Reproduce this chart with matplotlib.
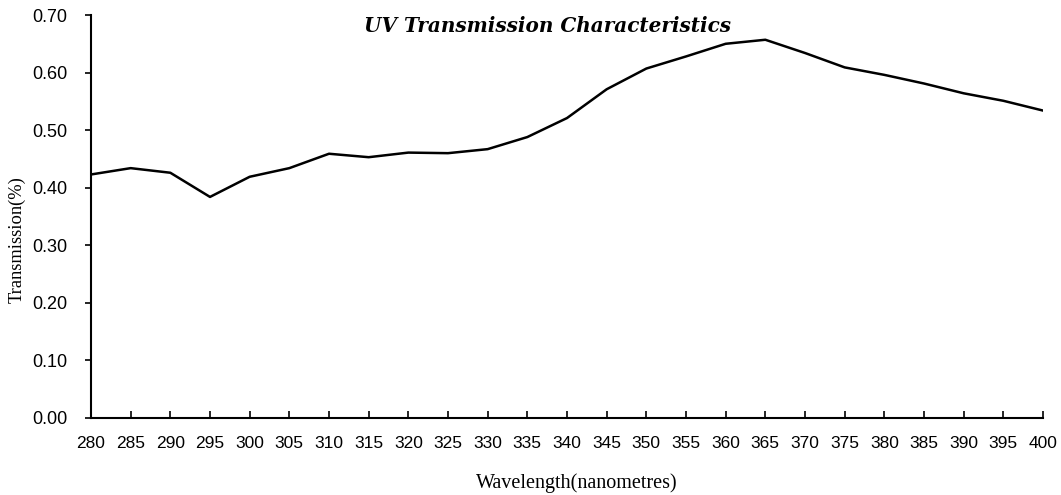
import matplotlib
matplotlib.use("Agg")
import matplotlib.pyplot as plt
import numpy as np

# wavelength in nm, transmission
wavelengths = [280, 285, 290, 295, 300, 305, 310, 315, 320, 325, 330, 335, 340,
               345, 350, 355, 360, 365, 370, 375, 380, 385, 390, 395, 400]
transmission = [0.423, 0.434, 0.426, 0.384, 0.419, 0.434, 0.459, 0.453, 0.461,
                0.460, 0.467, 0.488, 0.521, 0.571, 0.607, 0.628, 0.650, 0.657,
                0.634, 0.609, 0.596, 0.581, 0.564, 0.551, 0.534]
y_ticks = [0.0, 0.1, 0.2, 0.3, 0.4, 0.5, 0.6, 0.7]

W, H = 1061, 495
fig = plt.figure(figsize=(W / 100, H / 100), dpi=100)
ax = fig.add_axes([91 / W, 1 - 418 / H, (1043 - 91) / W, (418 - 15) / H])

ax.plot(wavelengths, transmission, color="black", linewidth=1.8, solid_joinstyle="round")

ax.set_xlim(wavelengths[0], wavelengths[-1])
ax.set_ylim(0, 0.7)
ax.set_xticks(wavelengths)
ax.set_xticklabels([str(w) for w in wavelengths], fontfamily="Liberation Sans", fontsize=12.5)
ax.set_yticks(y_ticks)
ax.set_yticklabels([f"{v:.2f}" for v in y_ticks], fontfamily="Liberation Sans", fontsize=13)

for side in ("top", "right"):
    ax.spines[side].set_visible(False)
for side in ("left", "bottom"):
    ax.spines[side].set_linewidth(1.5)
    ax.spines[side].set_color("black")

ax.tick_params(axis="x", direction="in", length=5, width=1.2, pad=13)
ax.tick_params(axis="y", direction="out", length=4, width=1.2, pad=13)

fig.text(547 / W, 1 - 32 / H, "UV Transmission Characteristics",
         fontfamily="DejaVu Serif", fontsize=14.4, fontweight="bold", fontstyle="italic",
         ha="center", va="baseline")
fig.text(577 / W, 1 - 488 / H, "Wavelength(nanometres)",
         fontfamily="Liberation Serif", fontsize=14.5, ha="center", va="baseline")
fig.text(17 / W, 1 - 240 / H, "Transmission(%)",
         fontfamily="Liberation Serif", fontsize=13.3, rotation=90, ha="center", va="center")

fig.savefig("out.png", dpi=100)
